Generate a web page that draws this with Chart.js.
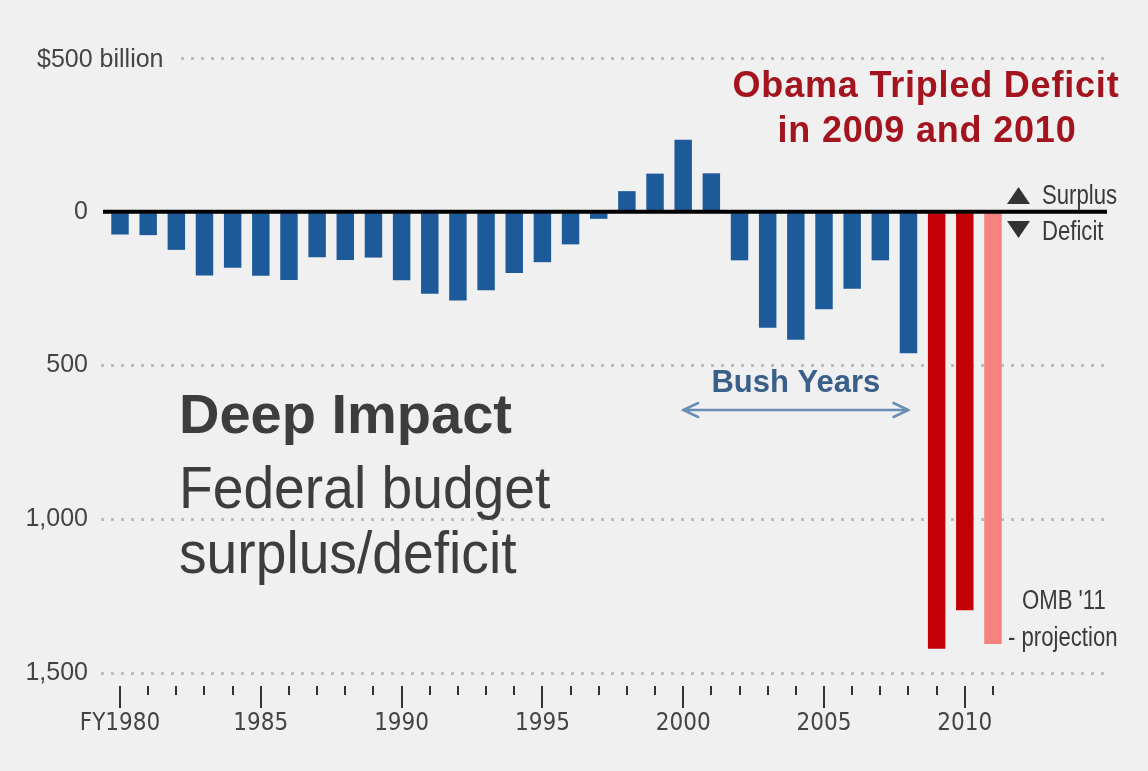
<!DOCTYPE html>
<html><head><meta charset="utf-8">
<script src="https://cdn.jsdelivr.net/npm/chart.js@4.4.1/dist/chart.umd.min.js"></script>
<style>html,body{margin:0;padding:0;background:#f0f0f0;overflow:hidden;} canvas{display:block;}</style>
</head><body>
<canvas id="c" width="1148" height="771"></canvas>
<script>
// ---- data (billions of dollars; negative = deficit) ----
const years = [1980,1981,1982,1983,1984,1985,1986,1987,1988,1989,1990,1991,1992,1993,1994,1995,
               1996,1997,1998,1999,2000,2001,2002,2003,2004,2005,2006,2007,2008,2009,2010,2011];
const balance = [-74,-76,-124,-207,-182,-208,-222,-148,-157,-149,-223,-267,-289,-255,-199,-164,
                 -106,-23,67,124,234,125,-158,-377,-416,-317,-250,-158,-460,-1421,-1296,-1406];
const obamaYears = [2009, 2010];
const projectionYears = [2011];
const bushSpan = [2000, 2008];
const xTickYears = [1980,1985,1990,1995,2000,2005,2010];
const xTickLabels = ['FY1980','1985','1990','1995','2000','2005','2010'];
const yTickValues = [500,0,-500,-1000,-1500];
const yTickLabels = ['$500 billion','0','500','1,000','1,500'];

const CONDENSED = "'DejaVu Sans Condensed','Liberation Sans Narrow',sans-serif";
const SANS = "'Liberation Sans',Arial,Helvetica,sans-serif";

const colorFor = y => projectionYears.includes(y) ? '#f4827e' : (obamaYears.includes(y) ? '#c20006' : '#1d5a9a');

function narrowText(ctx, text, x, y, size, sx) {
  ctx.save();
  ctx.translate(x, y);
  ctx.scale(sx, 1);
  ctx.font = size + 'px ' + SANS;
  ctx.fillText(text, 0, 0);
  ctx.restore();
}

const decor = {
  id: 'decor',
  afterDatasetsDraw(chart) {
    const {ctx, chartArea, scales:{y}} = chart;
    const y0 = y.getPixelForValue(0);
    ctx.save();
    ctx.fillStyle = '#000';
    ctx.fillRect(chartArea.left + 2, y0 - 2, chartArea.right - chartArea.left - 2, 4);
    ctx.restore();
  },
  afterDraw(chart) {
    const {ctx, chartArea, scales:{x, y}} = chart;
    ctx.save();
    // x tick marks
    ctx.fillStyle = '#333';
    const b = chartArea.bottom;
    years.forEach(v => {
      const px = Math.round(x.getPixelForValue(v));
      const major = xTickYears.includes(v);
      ctx.fillRect(px - 1, b + 13, 2, major ? 22 : 9);
    });
    // top axis label "$500 billion"
    const yTop = y.getPixelForValue(yTickValues[0]);
    ctx.font = '25px ' + SANS;
    const t = yTickLabels[0];
    const tw = ctx.measureText(t).width;
    ctx.fillStyle = '#f0f0f0';
    ctx.fillRect(30, yTop - 16, 37 + tw + 12 - 30, 32);
    ctx.fillStyle = '#444';
    ctx.textBaseline = 'middle';
    ctx.textAlign = 'left';
    ctx.fillText(t, 37, yTop + 2);

    // Title block
    ctx.textBaseline = 'alphabetic';
    ctx.fillStyle = '#3d3d3d';
    ctx.font = 'bold 56px ' + SANS;
    ctx.fillText('Deep Impact', 179, 433);
    narrowText(ctx, 'Federal budget', 179, 508, 60, 0.92);
    narrowText(ctx, 'surplus/deficit', 179, 573, 60, 0.92);

    // Obama annotation
    ctx.fillStyle = '#a3141e';
    ctx.textAlign = 'center';
    ctx.font = 'bold 36px ' + SANS;
    try { ctx.letterSpacing = '0.8px'; } catch(e) {}
    ctx.fillText('Obama Tripled Deficit', 926, 97);
    ctx.fillText('in 2009 and 2010', 927, 142);
    try { ctx.letterSpacing = '0px'; } catch(e) {}

    // Surplus / Deficit legend
    ctx.fillStyle = '#333';
    ctx.beginPath();
    ctx.moveTo(1018.5, 187); ctx.lineTo(1030, 204); ctx.lineTo(1007, 204); ctx.closePath(); ctx.fill();
    ctx.beginPath();
    ctx.moveTo(1007, 221); ctx.lineTo(1030, 221); ctx.lineTo(1018.5, 238); ctx.closePath(); ctx.fill();
    ctx.textAlign = 'left';
    ctx.fillStyle = '#3a3a3a';
    narrowText(ctx, 'Surplus', 1042, 204, 27, 0.82);
    narrowText(ctx, 'Deficit', 1042, 240, 27, 0.82);

    // projection note
    narrowText(ctx, "OMB '11", 1022, 609, 27, 0.82);
    narrowText(ctx, '- projection', 1008, 646, 27, 0.82);

    // Bush years
    const xa = x.getPixelForValue(bushSpan[0]);
    const xb = x.getPixelForValue(bushSpan[1]);
    ctx.fillStyle = '#3a6089';
    ctx.textAlign = 'center';
    ctx.font = 'bold 31px ' + SANS;
    ctx.fillText('Bush Years', (xa + xb) / 2, 392);
    ctx.strokeStyle = '#6a8db5';
    ctx.lineWidth = 2.5;
    ctx.lineCap = 'round';
    const ay = 410;
    ctx.beginPath();
    ctx.moveTo(xa, ay); ctx.lineTo(xb, ay);
    ctx.moveTo(xa + 15, ay - 7); ctx.lineTo(xa, ay); ctx.lineTo(xa + 15, ay + 7);
    ctx.moveTo(xb - 15, ay - 7); ctx.lineTo(xb, ay); ctx.lineTo(xb - 15, ay + 7);
    ctx.stroke();
    ctx.restore();
  }
};

new Chart(document.getElementById('c').getContext('2d'), {
  type: 'bar',
  data: {
    datasets: [{
      data: years.map((yr, i) => ({x: yr, y: balance[i]})),
      backgroundColor: years.map(colorFor),
      borderWidth: 0,
      barPercentage: 0.62,
      categoryPercentage: 1
    }]
  },
  options: {
    responsive: false,
    animation: false,
    layout: {padding: {top: 58, right: 41, bottom: 0, left: 0}},
    plugins: {legend: {display: false}, tooltip: {enabled: false}},
    scales: {
      x: {
        type: 'linear',
        offset: false,
        min: 1979.325,
        max: 2015.05,
        afterBuildTicks: s => { s.ticks = years.map(v => ({value: v})); },
        afterFit: s => { s.height = 98; },
        grid: {display: false, drawTicks: false, offset: false},
        border: {display: false},
        ticks: {
          autoSkip: false, maxRotation: 0, minRotation: 0, padding: 36,
          color: '#444', font: {family: CONDENSED, size: 24},
          callback: v => { const k = xTickYears.indexOf(v); return k >= 0 ? xTickLabels[k] : ''; }
        }
      },
      y: {
        min: -1500,
        max: 500,
        afterBuildTicks: s => { s.ticks = yTickValues.map(v => ({value: v})); },
        afterFit: s => { s.width = 101; },
        grid: {
          drawTicks: false,
          lineWidth: 3,
          color: c => (c.tick && c.tick.value === 0) ? 'rgba(0,0,0,0)' : '#bdbdbd'
        },
        border: {display: false, dash: [3, 7]},
        ticks: {
          padding: 13, color: '#444', font: {family: SANS, size: 25},
          callback: v => { const k = yTickValues.indexOf(v); return k > 0 ? yTickLabels[k] : ''; }
        }
      }
    }
  },
  plugins: [decor]
});
</script>
</body></html>
